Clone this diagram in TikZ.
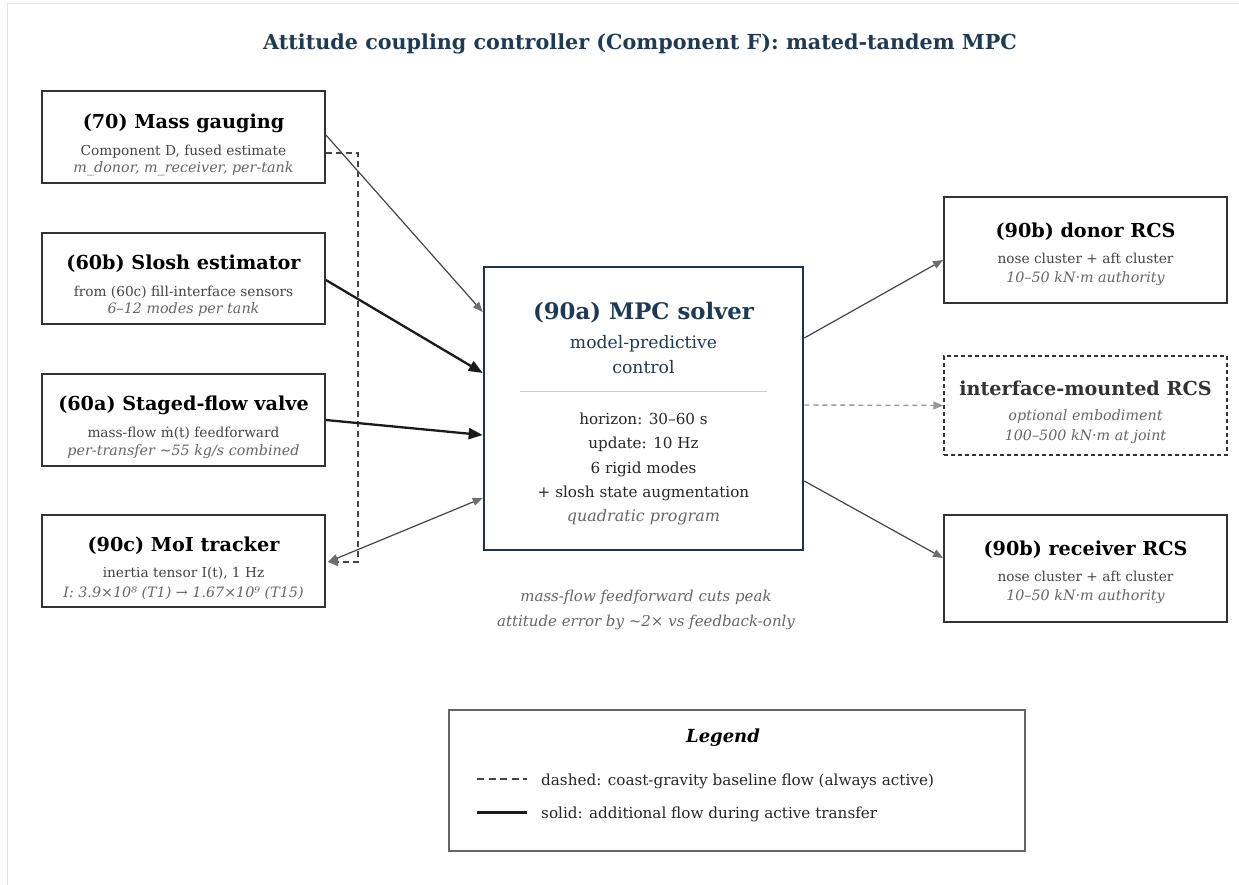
\documentclass[tikz,border=0pt]{standalone}
\usepackage{fontspec}
\setmainfont{DejaVu Serif}
\usetikzlibrary{arrows.meta,calc}
\definecolor{navy}{HTML}{1F3A52}
\definecolor{mpcline}{HTML}{1F3547}
\definecolor{boxc}{HTML}{333333}
\definecolor{subc}{HTML}{444444}
\definecolor{itc}{HTML}{666666}
\definecolor{linec}{HTML}{444444}
\definecolor{headc}{HTML}{6E6E6E}
\definecolor{thickc}{HTML}{1A1A1A}
\definecolor{rulec}{HTML}{CCCCCC}
\definecolor{framec}{HTML}{E6E6E6}
\definecolor{optc}{HTML}{999999}
\newcommand{\tld}{{\char"7E}}
\tikzset{
  box/.style={draw=boxc, line width=1.8pt, fill=white, inner sep=0pt, minimum width=283pt, minimum height=92pt},
  mpcbox/.style={draw=mpcline, line width=2.6pt, fill=white, inner sep=0pt, minimum width=319pt, minimum height=283pt},
  optbox/.style={draw=boxc, line width=1.2pt, dash pattern=on 4pt off 3pt, fill=white, inner sep=0pt, minimum width=283pt, minimum height=99pt},
  ttl/.style={anchor=base, inner sep=0pt, text=black, font=\fontsize{19.2}{22}\selectfont\bfseries},
  sub/.style={anchor=base, inner sep=0pt, text=subc, font=\fontsize{13.7}{16}\selectfont},
  ita/.style={anchor=base, inner sep=0pt, text=itc, font=\fontsize{14.3}{17}\selectfont\itshape},
  thin/.style={draw=linec, line width=1.2pt, -{Triangle[length=10pt,width=8pt,color=headc]}},
  thick/.style={draw=thickc, line width=2.3pt, -{Triangle[length=14pt,width=11pt,color=thickc]}},
  dashloop/.style={draw=subc, line width=1.2pt, dash pattern=on 6pt off 4pt, -{Triangle[length=10pt,width=8pt,color=headc]}},
  optarrow/.style={draw=optc, line width=1.4pt, dash pattern=on 5pt off 4pt, -{Triangle[length=10pt,width=8pt,color=optc]}},
}
\begin{document}
\begin{tikzpicture}[x=1pt,y=-1pt]
\useasboundingbox (0,0) rectangle (1239,884);
\draw[framec, line width=1.5pt] (7.5,900) -- (7.5,3.5) -- (1260,3.5);

% title
\node[anchor=base, inner sep=0pt, text=navy, font=\fontsize{20.7}{24}\selectfont\bfseries] (title) at (640,49) {Attitude coupling controller (Component F): mated-tandem MPC};

% left boxes
\node[box] (m70) at (183.5,137) {};
\node[ttl] (t70) at (183.5,128) {(70) Mass gauging};
\node[sub] (s70a) at (183.5,155) {Component D, fused estimate};
\node[ita] (s70b) at (183.5,172) {m\_donor, m\_receiver, per-tank};

\node[box, minimum height=91pt] (m60b) at (183.5,278.5) {};
\node[ttl] (t60b) at (183.5,269) {(60b) Slosh estimator};
\node[sub] (s60ba) at (183.5,296) {from (60c) fill-interface sensors};
\node[ita] (s60bb) at (183.5,313) {6–12 modes per tank};

\node[box] (m60a) at (183.5,420) {};
\node[ttl] (t60a) at (183.5,410) {(60a) Staged-flow valve};
\node[sub] (s60aa) at (183.5,437) {mass-flow ṁ(t) feedforward};
\node[ita] (s60ab) at (183.5,455) {per-transfer \tld55 kg/s combined};

\node[box] (m90c) at (183.5,561) {};
\node[ttl] (t90c) at (183.5,551) {(90c) MoI tracker};
\node[sub] (s90ca) at (183.5,577) {inertia tensor I(t), 1 Hz};
\node[ita] (s90cb) at (183.5,597) {I: 3.9×10⁸ (T1) → 1.67×10⁹ (T15)};

% MPC
\node[mpcbox] (mpc) at (643.5,408.5) {};
\node[anchor=base, inner sep=0pt, text=navy, font=\fontsize{22.8}{26}\selectfont\bfseries] (tmpc) at (643.5,319) {(90a) MPC solver};
\node[anchor=base, inner sep=0pt, text=navy, font=\fontsize{17.2}{20}\selectfont] (smpca) at (643.5,348) {model-predictive};
\node[anchor=base, inner sep=0pt, text=navy, font=\fontsize{17.2}{20}\selectfont] (smpcb) at (643.5,373) {control};
\coordinate (rl) at (520,391.5);
\coordinate (rr) at (767,391.5);
\draw[rulec, line width=1.2pt] (rl) -- (rr);
\tikzset{mpcl/.style={anchor=base, inner sep=0pt, text=black!85, font=\fontsize{15.2}{18}\selectfont}}
\node[mpcl] (h1) at (643.5,424) {horizon: 30–60 s};
\node[mpcl] (h2) at (643.5,448) {update: 10 Hz};
\node[mpcl] (h3) at (643.5,473) {6 rigid modes};
\node[mpcl] (h4) at (643.5,497.5) {+ slosh state augmentation};
\node[mpcl, text=itc, font=\fontsize{16}{18}\selectfont\itshape] (h5) at (643.5,521.5) {quadratic program};

% right boxes
\node[box, minimum height=106pt] (donor) at (1085.5,250) {};
\node[ttl] (tdonor) at (1085.5,237) {(90b) donor RCS};
\node[sub] (sdonora) at (1085.5,263) {nose cluster + aft cluster};
\node[ita] (sdonorb) at (1085.5,282) {10–50 kN·m authority};

\node[optbox] (intf) at (1085.5,405.5) {};
\node[ttl, text=boxc] (tintf) at (1085.5,395) {interface-mounted RCS};
\node[ita] (sintfa) at (1085.5,420) {optional embodiment};
\node[ita] (sintfb) at (1085.5,440) {100–500 kN·m at joint};

\node[box, minimum height=107pt] (recv) at (1085.5,568.5) {};
\node[ttl] (trecv) at (1085.5,555) {(90b) receiver RCS};
\node[sub] (srecva) at (1085.5,581.5) {nose cluster + aft cluster};
\node[ita] (srecvb) at (1085.5,600.5) {10–50 kN·m authority};

% note
\node[ita, font=\fontsize{15}{17}\selectfont\itshape] (note1) at (646,601) {mass-flow feedforward cuts peak};
\node[ita, font=\fontsize{15}{17}\selectfont\itshape] (note2) at (646,626.5) {attitude error by \tld2× vs feedback-only};

% connectors
\draw[thin] ($(m70.east)+(0,-2)$) -- ($(mpc.west)+(0,-96.5)$);
\draw[dashloop] ($(m70.east)+(0,16)$) -- ++(32,0) |- ($(m90c.east)+(2,1)$);
\draw[thick] ($(m60b.east)+(0,1.5)$) -- ($(mpc.west)+(0,-35.5)$);
\draw[thick] (m60a.east) -- ($(mpc.west)+(0,26.5)$);
\draw[thin, {Triangle[length=10pt,width=8pt,color=headc]}-{Triangle[length=10pt,width=8pt,color=headc]}] ($(m90c.east)+(2,1)$) -- ($(mpc.west)+(0,89.5)$);
\draw[thin] ($(mpc.east)+(0,-70.5)$) -- ($(donor.west)+(0,10)$);
\draw[optarrow] ($(mpc.east)+(0,-3.5)$) -- (intf.west);
\draw[thin] ($(mpc.east)+(0,72.5)$) -- ($(recv.west)+(0,-10.5)$);

% legend
\node[draw=black!60, line width=1.2pt, fill=white, minimum width=576pt, minimum height=141pt, inner sep=0pt] (legend) at (737,780.5) {};
\node[anchor=base, inner sep=0pt, font=\fontsize{18}{21}\selectfont\bfseries\itshape] (legt) at (723,742) {Legend};
\coordinate (da) at (477,779);
\coordinate (db) at (527,779);
\draw[draw=subc, line width=1.3pt, dash pattern=on 7pt off 4.5pt] (da) -- (db);
\node[anchor=base west, inner sep=0pt, text=black!85, font=\fontsize{15.2}{18}\selectfont] (legd) at (541,785) {dashed: coast-gravity baseline flow (always active)};
\coordinate (sa) at (477,812.5);
\coordinate (sb) at (527,812.5);
\draw[draw=thickc, line width=2.3pt] (sa) -- (sb);
\node[anchor=base west, inner sep=0pt, text=black!85, font=\fontsize{15.2}{18}\selectfont] (legs) at (541,818) {solid: additional flow during active transfer};
\end{tikzpicture}
\end{document}
